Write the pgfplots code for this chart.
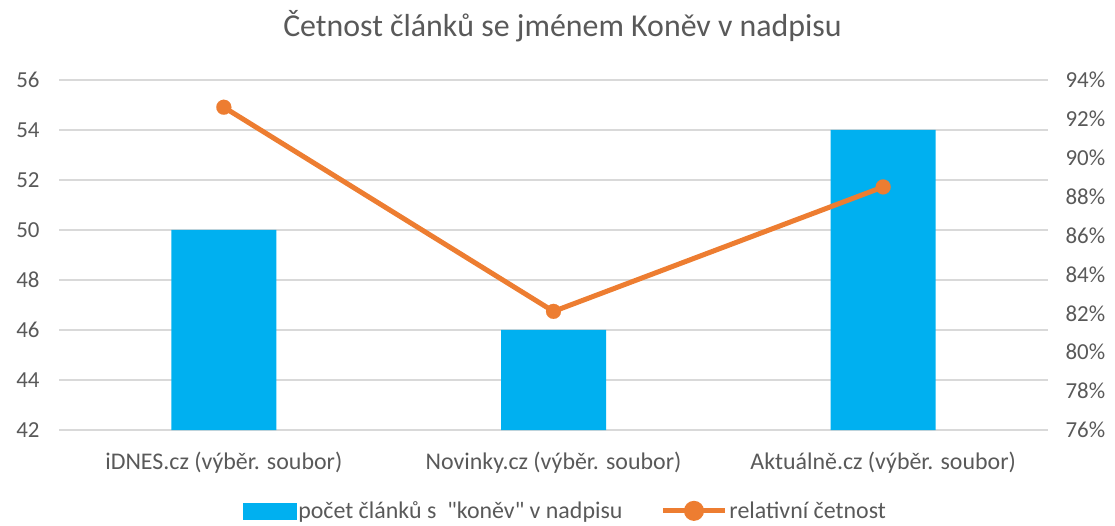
\documentclass[border=0pt]{standalone}
\usepackage{pgfplots}
\pgfplotsset{compat=1.18}
\usepackage{fontspec}
\setmainfont{Carlito}
\newfontfamily\qfont{Carlito}[Ligatures=TeXOff]
\definecolor{txt}{HTML}{595959}
\definecolor{grd}{HTML}{D9D9D9}
\definecolor{barblue}{HTML}{00B0F0}
\definecolor{lineor}{HTML}{ED7D31}
\begin{document}
\begin{tikzpicture}
\path[use as bounding box] (-59bp,-96bp) rectangle (1056bp,430bp);
\begin{axis}[
  at={(0,0)}, anchor=south west, scale only axis,
  width=989bp, height=350bp,
  xmin=-0.5, xmax=2.5, ymin=42, ymax=56,
  ytick={42,44,...,56},
  xtick={0,1,2},
  xticklabels={iDNES.cz (výběr. soubor), Novinky.cz (výběr. soubor), Aktuálně.cz (výběr. soubor)},
  /pgf/number format/assume math mode=true,
  axis line style={draw=none}, major tick length=0pt,
  ymajorgrids, grid style={grd, line width=1.3bp},
  tick label style={font=\fontsize{24}{28}\selectfont, text=txt},
  yticklabel style={xshift=-16bp, font=\fontsize{23}{27}\selectfont},
  xticklabel style={yshift=-18bp},
  title={Četnost článků se jménem Koněv v nadpisu},
  title style={font=\fontsize{32}{38}\selectfont, text=txt, at={(0.5,1)}, anchor=center, yshift=48bp, xshift=9bp},
  clip=true,
]
\addplot[ybar, bar width=105bp, fill=barblue, draw=none] coordinates {(0,50) (1,46) (2,54)};
\end{axis}
\begin{axis}[
  at={(0,0)}, anchor=south west, scale only axis,
  width=989bp, height=350bp,
  xmin=-0.5, xmax=2.5, ymin=76, ymax=94,
  ytick={76,78,...,94},
  /pgf/number format/assume math mode=true,
  axis x line=none, axis y line*=right,
  axis line style={draw=none}, major tick length=0pt,
  yticklabel={\pgfmathprintnumber{\tick}\%},
  tick label style={font=\fontsize{23}{27}\selectfont, text=txt},
  yticklabel style={xshift=14bp},
  legend columns=2,
  legend style={at={(0.512,-0.231)}, anchor=center, draw=none, fill=none,
    font=\fontsize{24}{28}\selectfont, text=txt,
    /tikz/every even column/.append style={column sep=36bp},
    inner sep=0pt},
  legend cell align=left,
]
\addlegendimage{legend image code/.code={\fill[barblue] (0bp,-8bp) rectangle (53bp,8bp);}}
\addlegendentry{počet článků s\ \ {\qfont"}koněv{\qfont"} v nadpisu}
\addplot[lineor, line width=5bp, mark=*, mark size=7.5bp, mark options={fill=lineor, draw=lineor, line width=0.1bp},
  legend image code/.code={\draw[lineor, line width=5bp] (0bp,0bp) -- (62bp,0bp); \fill[lineor] (31bp,0bp) circle (7.5bp);}]
  coordinates {(0,92.6) (1,82.1) (2,88.5)};
\addlegendentry{relativní četnost}
\end{axis}
\end{tikzpicture}
\end{document}
